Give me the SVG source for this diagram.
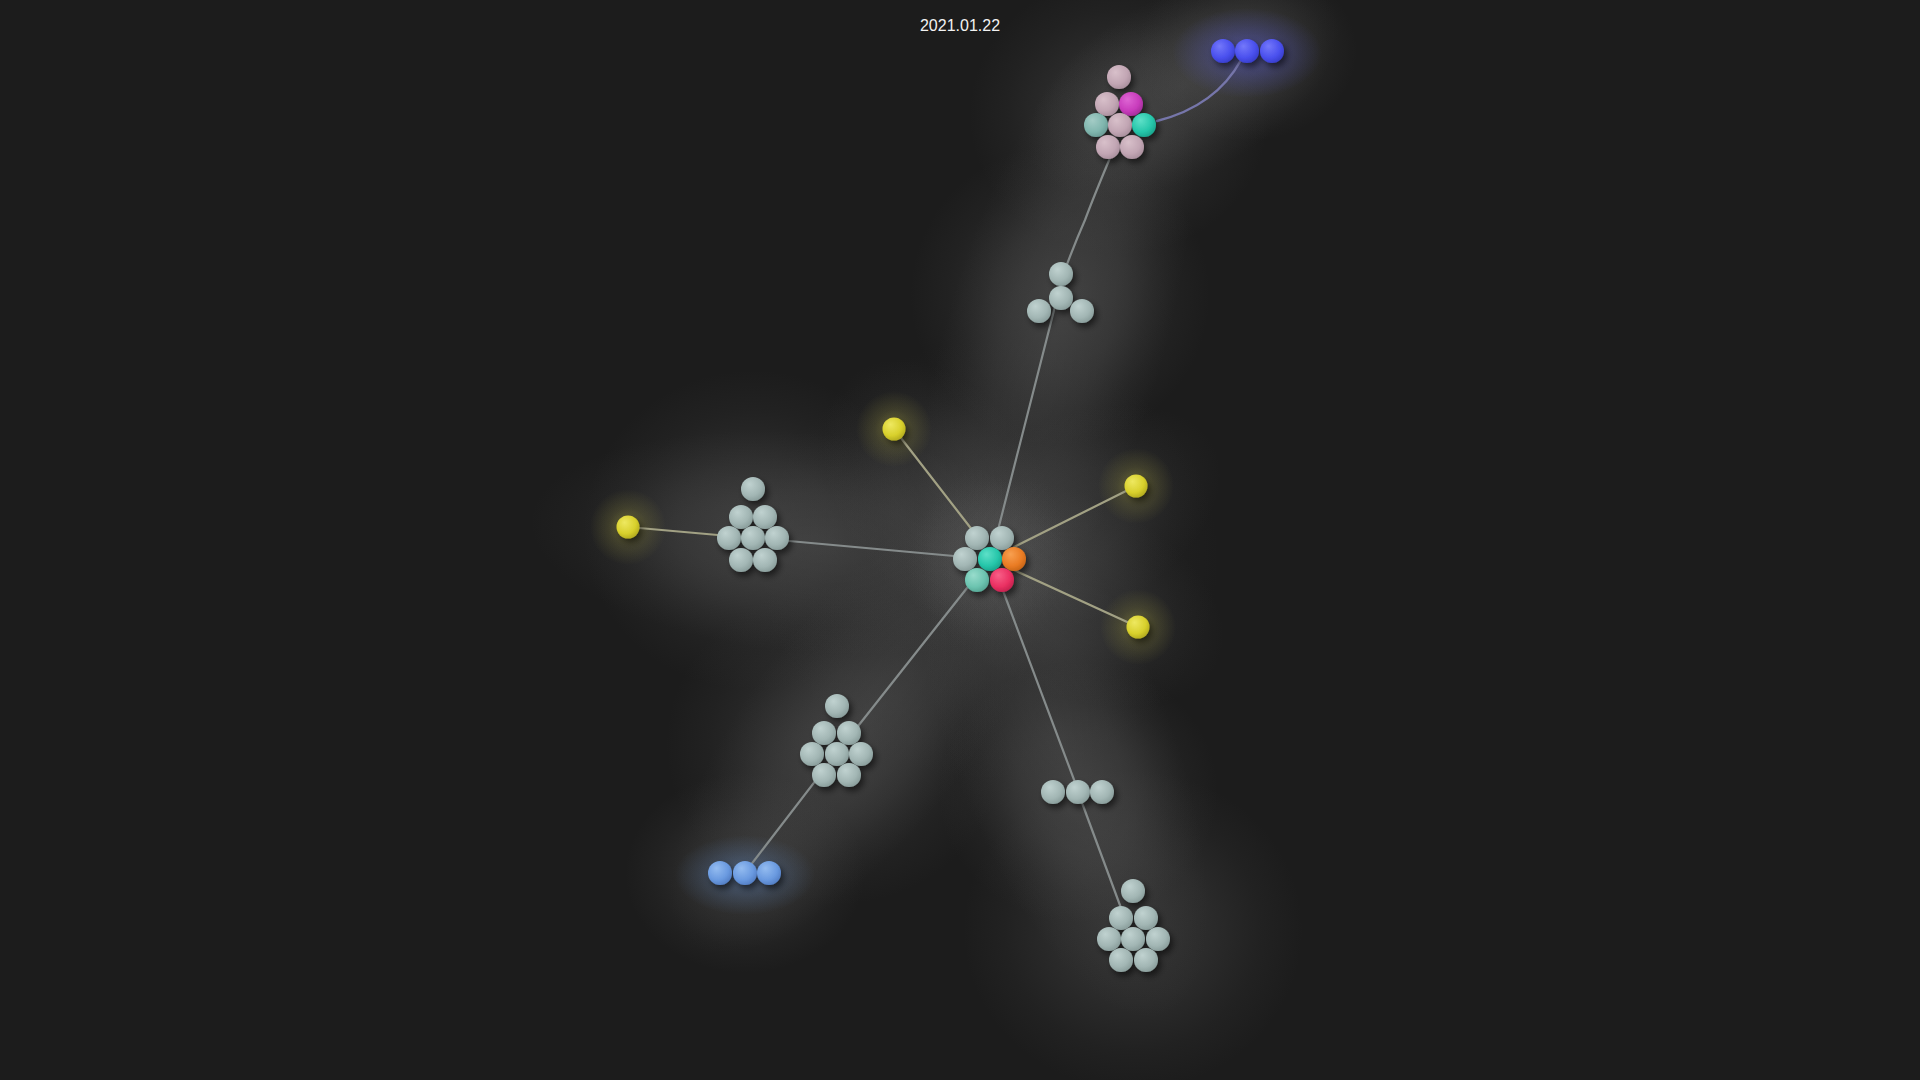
<svg xmlns="http://www.w3.org/2000/svg" width="1920" height="1080" viewBox="0 0 1920 1080">
<defs>
<style>
.edge{fill:none;stroke:#858b8b;stroke-width:2.2;stroke-linecap:round}
.ey{fill:none;stroke:#a2a184;stroke-width:2.2;stroke-linecap:round}
.eb{fill:none;stroke:#7676aa;stroke-width:2.4;stroke-linecap:round}
.ball{filter:url(#shadow)}
.hz{fill:url(#gHaze)}
.gr{fill:url(#gGrey)}
.pk{fill:url(#gPink)}
.mg{fill:url(#gMag)}
.tg{fill:url(#gTealGrey)}
.tl{fill:url(#gTeal)}
.lt{fill:url(#gLtTeal)}
.or{fill:url(#gOrange)}
.rd{fill:url(#gRed)}
.yl{fill:url(#gYellow)}
.bl{fill:url(#gBlue)}
.lb{fill:url(#gLtBlue)}
.title{font-family:"Liberation Sans",Arial,sans-serif;font-size:16px;fill:#f2f2f2}
</style>
<filter id="shadow" x="-50%" y="-50%" width="200%" height="200%">
<feDropShadow dx="3" dy="4" stdDeviation="3" flood-color="#000" flood-opacity="0.55"/>
</filter>
<radialGradient id="gHaze"><stop offset="0" stop-color="#6a6a6a" stop-opacity="0.3"/><stop offset="0.45" stop-color="#6a6a6a" stop-opacity="0.19"/><stop offset="0.75" stop-color="#6a6a6a" stop-opacity="0.07"/><stop offset="1" stop-color="#6a6a6a" stop-opacity="0"/></radialGradient>
<radialGradient id="gYGlow"><stop offset="0" stop-color="#d8d04a" stop-opacity="0.38"/><stop offset="0.5" stop-color="#d8d04a" stop-opacity="0.14"/><stop offset="1" stop-color="#d8d04a" stop-opacity="0"/></radialGradient>
<radialGradient id="gBGlow"><stop offset="0" stop-color="#5a5ef0" stop-opacity="0.45"/><stop offset="1" stop-color="#5a5ef0" stop-opacity="0"/></radialGradient>
<radialGradient id="gLBGlow"><stop offset="0" stop-color="#6a9ae0" stop-opacity="0.4"/><stop offset="1" stop-color="#6a9ae0" stop-opacity="0"/></radialGradient>
<radialGradient id="gGrey" cx="40%" cy="35%" r="65%" fx="35%" fy="30%"><stop offset="0" stop-color="#c0d2d0"/><stop offset="0.7" stop-color="#a2b6b4"/><stop offset="1" stop-color="#8ca09e"/></radialGradient>
<radialGradient id="gPink" cx="40%" cy="35%" r="65%" fx="35%" fy="30%"><stop offset="0" stop-color="#d8c0ca"/><stop offset="0.7" stop-color="#c2a6b4"/><stop offset="1" stop-color="#ac92a0"/></radialGradient>
<radialGradient id="gMag" cx="40%" cy="35%" r="65%" fx="35%" fy="30%"><stop offset="0" stop-color="#de66d4"/><stop offset="0.7" stop-color="#c83cbc"/><stop offset="1" stop-color="#a8309e"/></radialGradient>
<radialGradient id="gTealGrey" cx="40%" cy="35%" r="65%" fx="35%" fy="30%"><stop offset="0" stop-color="#a4ccc6"/><stop offset="0.7" stop-color="#80b6ae"/><stop offset="1" stop-color="#6c9e98"/></radialGradient>
<radialGradient id="gTeal" cx="40%" cy="35%" r="65%" fx="35%" fy="30%"><stop offset="0" stop-color="#5ee0c8"/><stop offset="0.7" stop-color="#26c6aa"/><stop offset="1" stop-color="#1ca890"/></radialGradient>
<radialGradient id="gLtTeal" cx="40%" cy="35%" r="65%" fx="35%" fy="30%"><stop offset="0" stop-color="#98dccc"/><stop offset="0.7" stop-color="#6cc4b0"/><stop offset="1" stop-color="#58aa98"/></radialGradient>
<radialGradient id="gOrange" cx="40%" cy="35%" r="65%" fx="35%" fy="30%"><stop offset="0" stop-color="#f8a050"/><stop offset="0.7" stop-color="#ea7c24"/><stop offset="1" stop-color="#cc6818"/></radialGradient>
<radialGradient id="gRed" cx="40%" cy="35%" r="65%" fx="35%" fy="30%"><stop offset="0" stop-color="#f86088"/><stop offset="0.7" stop-color="#ea3062"/><stop offset="1" stop-color="#c82450"/></radialGradient>
<radialGradient id="gYellow" cx="40%" cy="35%" r="65%" fx="35%" fy="30%"><stop offset="0" stop-color="#eee860"/><stop offset="0.7" stop-color="#d8d02c"/><stop offset="1" stop-color="#b8b020"/></radialGradient>
<radialGradient id="gBlue" cx="40%" cy="35%" r="65%" fx="35%" fy="30%"><stop offset="0" stop-color="#7478fa"/><stop offset="0.7" stop-color="#4a50ee"/><stop offset="1" stop-color="#3a40d0"/></radialGradient>
<radialGradient id="gLtBlue" cx="40%" cy="35%" r="65%" fx="35%" fy="30%"><stop offset="0" stop-color="#94bcf0"/><stop offset="0.7" stop-color="#6a9ae0"/><stop offset="1" stop-color="#5682c8"/></radialGradient>
</defs>
<rect x="0" y="0" width="1920" height="1080" fill="#1c1c1c"/>
<g id="haze">
<ellipse class="hz" cx="990" cy="560" rx="230" ry="220" opacity="0.6"/>
<ellipse class="hz" cx="1119" cy="115" rx="150" ry="140"/>
<ellipse class="hz" cx="1060" cy="295" rx="150" ry="150"/>
<ellipse class="hz" cx="753" cy="530" rx="170" ry="160"/>
<ellipse class="hz" cx="836" cy="745" rx="170" ry="160"/>
<ellipse class="hz" cx="1133" cy="930" rx="170" ry="160"/>
<ellipse class="hz" cx="1078" cy="792" rx="140" ry="130"/>
<ellipse class="hz" transform="translate(1055,338) rotate(106)" rx="330" ry="110"/>
<ellipse class="hz" transform="translate(868,716) rotate(128)" rx="290" ry="110"/>
<ellipse class="hz" transform="translate(809,543) rotate(5)" rx="280" ry="110"/>
<ellipse class="hz" transform="translate(1062,745) rotate(69)" rx="290" ry="110"/>
<ellipse class="hz" transform="translate(1063,523) rotate(-27)" rx="170" ry="100" opacity="0.8"/>
<ellipse class="hz" transform="translate(1064,593) rotate(24)" rx="170" ry="100" opacity="0.8"/>
<ellipse class="hz" transform="translate(942,494) rotate(54)" rx="150" ry="100" opacity="0.8"/>
<ellipse class="hz" transform="translate(1183,85) rotate(-28)" rx="170" ry="90"/>
<ellipse class="hz" cx="1247" cy="51" rx="110" ry="90"/>
<ellipse class="hz" cx="745" cy="873" rx="120" ry="100"/>
</g>
<g id="glows">
<circle cx="894" cy="429" r="38" fill="url(#gYGlow)"/>
<circle cx="1136" cy="486" r="38" fill="url(#gYGlow)"/>
<circle cx="1138" cy="627" r="38" fill="url(#gYGlow)"/>
<circle cx="628" cy="527" r="38" fill="url(#gYGlow)"/>
<ellipse cx="1247" cy="53" rx="75" ry="45" fill="url(#gBGlow)"/>
<ellipse cx="745" cy="875" rx="70" ry="40" fill="url(#gLBGlow)"/>
</g>
<g id="connectors">
<path class="eb" d="M1241,60 Q1216,106 1157,121"/>
<path class="edge" d="M1110,158 Q1094,196 1085,220 Q1074,245 1063,275"/>
<line class="edge" x1="1063" y1="275" x2="998" y2="530"/>
<line class="ey" x1="973" y1="531" x2="894" y2="429"/>
<line class="ey" x1="1014" y1="547" x2="1136" y2="486"/>
<line class="ey" x1="1014" y1="570" x2="1138" y2="627"/>
<line class="ey" x1="628" y1="527" x2="729" y2="536"/>
<line class="edge" x1="778" y1="540" x2="965" y2="557"/>
<line class="edge" x1="967" y1="588" x2="836" y2="754"/>
<line class="edge" x1="836" y1="754" x2="750" y2="866"/>
<line class="edge" x1="1002" y1="588" x2="1076" y2="785"/>
<line class="edge" x1="1078" y1="792" x2="1121" y2="908"/>
</g>
<g id="node-center" class="ball">
<circle class="gr" cx="977" cy="538" r="12"/>
<circle class="gr" cx="1002" cy="538" r="12"/>
<circle class="gr" cx="965" cy="559" r="12"/>
<circle class="tl" cx="990" cy="559" r="12"/>
<circle class="or" cx="1014" cy="559" r="12"/>
<circle class="lt" cx="977" cy="580" r="12"/>
<circle class="rd" cx="1002" cy="580" r="12"/>
</g>
<g id="node-top" class="ball">
<circle class="pk" cx="1119" cy="77" r="12"/>
<circle class="pk" cx="1107" cy="104" r="12"/>
<circle class="mg" cx="1131" cy="104" r="12"/>
<circle class="tg" cx="1096" cy="125" r="12"/>
<circle class="pk" cx="1120" cy="125" r="12"/>
<circle class="tl" cx="1144" cy="125" r="12"/>
<circle class="pk" cx="1108" cy="147" r="12"/>
<circle class="pk" cx="1132" cy="147" r="12"/>
</g>
<g id="node-blue" class="ball">
<circle class="bl" cx="1223" cy="51" r="12"/>
<circle class="bl" cx="1247" cy="51" r="12"/>
<circle class="bl" cx="1272" cy="51" r="12"/>
</g>
<g id="node-tri" class="ball">
<circle class="gr" cx="1061" cy="274" r="12"/>
<circle class="gr" cx="1061" cy="298" r="12"/>
<circle class="gr" cx="1039" cy="311" r="12"/>
<circle class="gr" cx="1082" cy="311" r="12"/>
</g>
<g id="node-left" class="ball">
<circle class="gr" cx="753" cy="489" r="12"/>
<circle class="gr" cx="741" cy="517" r="12"/>
<circle class="gr" cx="765" cy="517" r="12"/>
<circle class="gr" cx="729" cy="538" r="12"/>
<circle class="gr" cx="753" cy="538" r="12"/>
<circle class="gr" cx="777" cy="538" r="12"/>
<circle class="gr" cx="741" cy="560" r="12"/>
<circle class="gr" cx="765" cy="560" r="12"/>
</g>
<g id="node-lowerleft" class="ball">
<circle class="gr" cx="837" cy="706" r="12"/>
<circle class="gr" cx="824" cy="733" r="12"/>
<circle class="gr" cx="849" cy="733" r="12"/>
<circle class="gr" cx="812" cy="754" r="12"/>
<circle class="gr" cx="837" cy="754" r="12"/>
<circle class="gr" cx="861" cy="754" r="12"/>
<circle class="gr" cx="824" cy="775" r="12"/>
<circle class="gr" cx="849" cy="775" r="12"/>
</g>
<g id="node-lightblue" class="ball">
<circle class="lb" cx="720" cy="873" r="12"/>
<circle class="lb" cx="745" cy="873" r="12"/>
<circle class="lb" cx="769" cy="873" r="12"/>
</g>
<g id="node-row" class="ball">
<circle class="gr" cx="1053" cy="792" r="12"/>
<circle class="gr" cx="1078" cy="792" r="12"/>
<circle class="gr" cx="1102" cy="792" r="12"/>
</g>
<g id="node-lowerright" class="ball">
<circle class="gr" cx="1133" cy="891" r="12"/>
<circle class="gr" cx="1121" cy="918" r="12"/>
<circle class="gr" cx="1146" cy="918" r="12"/>
<circle class="gr" cx="1109" cy="939" r="12"/>
<circle class="gr" cx="1133" cy="939" r="12"/>
<circle class="gr" cx="1158" cy="939" r="12"/>
<circle class="gr" cx="1121" cy="960" r="12"/>
<circle class="gr" cx="1146" cy="960" r="12"/>
</g>
<g id="node-y1" class="ball"><circle class="yl" cx="894" cy="429" r="11.5"/></g>
<g id="node-y2" class="ball"><circle class="yl" cx="1136" cy="486" r="11.5"/></g>
<g id="node-y3" class="ball"><circle class="yl" cx="1138" cy="627" r="11.5"/></g>
<g id="node-y4" class="ball"><circle class="yl" cx="628" cy="527" r="11.5"/></g>
<text class="title" x="960" y="31" text-anchor="middle">2021.01.22</text>
</svg>
